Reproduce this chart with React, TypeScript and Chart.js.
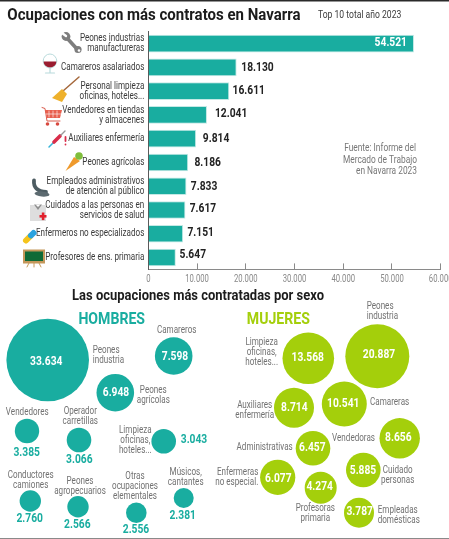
import React, { useEffect, useRef } from "react";
import { Chart, registerables } from "chart.js";

Chart.register(...registerables);

const occupations = [
  ["Peones industrias", "manufactureras"],
  "Camareros asalariados",
  ["Personal limpieza", "oficinas, hoteles..."],
  ["Vendedores en tiendas", "y almacenes"],
  "Auxiliares enfermería",
  "Peones agrícolas",
  ["Empleados administrativos", "de atención al público"],
  ["Cuidados a las personas en", "servicios de salud"],
  "Enfermeros no especializados",
  "Profesores de ens. primaria",
];
const contracts = [54521, 18130, 16611, 12041, 9814, 8186, 7833, 7617, 7151, 5647];

const menValues = [33634, 7598, 6948, 3385, 3066, 3043, 2760, 2566, 2556, 2381];
const womenValues = [20887, 13568, 10541, 8714, 8656, 6457, 6077, 5885, 4274, 3787];

// Packed-bubble layout (no meaningful axes in the reference)
const menX = [47.7, 173.7, 115.3, 27, 79, 163.7, 30.3, 78, 136.3, 183.7];
const menY = [360, 356, 392.7, 431, 440, 441.3, 501, 506.7, 512.7, 498];
const menR = [41.3, 18.8, 18.8, 12.2, 12.3, 12.3, 10.7, 10.7, 10.3, 10];
const womenX = [377.3, 308.3, 344.3, 294, 399.7, 313, 277.7, 363.3, 320.7, 359];
const womenY = [356.3, 358.3, 404, 407.7, 438.3, 448.3, 477.3, 470, 487.7, 512.7];
const womenR = [32, 25.8, 22.5, 20, 20.2, 17.3, 17.6, 17.3, 16, 15];

const TEAL = "#19ada0";
const GREEN = "#a4cf0b";
const FONT = '"Roboto", sans-serif';
const CONDENSED = 0.77;

const fmt = (v: number) => (v === 0 ? "0" : Math.floor(v / 1000) + "." + String(v % 1000).padStart(3, "0"));

// The reference uses a condensed typeface: every text of a chart is drawn narrowed.
const condensedText = {
  id: "condensedText",
  beforeInit(chart: any) {
    const ctx = chart.ctx;
    const fill = ctx.fillText.bind(ctx);
    ctx.fillText = (s: string, x: number, y: number) => {
      ctx.save();
      ctx.translate(x, y);
      ctx.scale(ctx.__sx || CONDENSED, 1);
      fill(s, 0, 0);
      ctx.restore();
    };
  },
};

function text(ctx: any, s: string, x: number, y: number, font: string, color: string, align = "left", sx = CONDENSED) {
  ctx.font = font;
  ctx.fillStyle = color;
  ctx.textAlign = align;
  ctx.textBaseline = "middle";
  ctx.__sx = sx;
  ctx.fillText(s, x, y);
  ctx.__sx = 0;
}

// Nudges of the value labels next to each bar [dx from bar end, dy from bar centre]
const valueGap = [0, 4.7, 3.3, 8, 6.7, 6.3, 4.3, 4.3, 4.3, 3.7];
const valueDy = [-1, 0.5, 0, -1.3, 0.5, 0.5, 1, -1.3, -1.3, -2.7];

const barLabels = {
  id: "barLabels",
  afterDatasetsDraw(chart: any) {
    const { ctx } = chart;
    const meta = chart.getDatasetMeta(0);
    ctx.save();
    contracts.forEach((v, i) => {
      const el = meta.data[i];
      if (i === 0) {
        text(ctx, fmt(v), el.x - 7, el.y + valueDy[i], `bold 12.5px ${FONT}`, "#ffffff", "right", 0.82);
      } else {
        text(ctx, fmt(v), el.x + valueGap[i], el.y + valueDy[i], `bold 12.5px ${FONT}`, "#222222", "left", 0.82);
      }
    });
    ctx.restore();
  },
};

function drawIcons(ctx: any) {
  ctx.save();
  ctx.lineCap = "round";
  ctx.lineJoin = "round";
  const line = (pts: number[][], color: string, w: number) => {
    ctx.strokeStyle = color;
    ctx.lineWidth = w;
    ctx.beginPath();
    pts.forEach((p, i) => (i ? ctx.lineTo(p[0], p[1]) : ctx.moveTo(p[0], p[1])));
    ctx.stroke();
  };
  const poly = (pts: number[][], color: string) => {
    ctx.fillStyle = color;
    ctx.beginPath();
    pts.forEach((p, i) => (i ? ctx.lineTo(p[0], p[1]) : ctx.moveTo(p[0], p[1])));
    ctx.closePath();
    ctx.fill();
  };
  const circle = (x: number, y: number, r: number, color: string) => {
    ctx.fillStyle = color;
    ctx.beginPath();
    ctx.arc(x, y, r, 0, Math.PI * 2);
    ctx.fill();
  };
  // wrench
  line([[66, 37], [77, 49]], "#7d7d7d", 3.6);
  circle(66, 36.5, 4.4, "#7d7d7d");
  circle(78, 49.5, 3.6, "#7d7d7d");
  line([[62, 33], [66, 36]], "#ffffff", 2.4);
  circle(79, 50.5, 1.3, "#ffffff");
  // wine glass
  ctx.strokeStyle = "#b8dadb";
  ctx.lineWidth = 1;
  ctx.beginPath();
  ctx.ellipse(50, 61, 6.8, 7, 0, 0, Math.PI * 2);
  ctx.stroke();
  ctx.fillStyle = "#9a1d30";
  ctx.beginPath();
  ctx.ellipse(50, 61.5, 6.4, 6, 0, 0, Math.PI);
  ctx.closePath();
  ctx.fill();
  line([[50, 68], [50, 72.5]], "#b8dadb", 1.2);
  line([[45.5, 73], [54.5, 73]], "#b8dadb", 1.2);
  // broom
  line([[79, 77], [63, 91]], "#a5683c", 1.5);
  poly([[62, 89], [67, 94], [62, 102], [52, 98]], "#eeb12c");
  // cart
  line([[42, 107.5], [45, 108.5], [47, 121], [60, 121]], "#d95a4c", 1);
  poly([[45, 110], [62, 110], [60, 118], [47, 118]], "#e8604f");
  [49, 53, 57].forEach((x) => line([[x, 111], [x, 117]], "#ffffff", 0.6));
  line([[46, 114], [61, 114]], "#ffffff", 0.6);
  circle(47.5, 124, 1.8, "#d8493f");
  circle(57.5, 124, 1.8, "#d8493f");
  // syringe
  line([[49, 147], [54, 142]], "#35b4d8", 1.5);
  line([[54, 142], [60, 136]], "#d92d4a", 3.6);
  line([[61, 135], [65, 131]], "#9a9a9a", 1.4);
  line([[65.5, 137], [65.5, 141]], "#d92d4a", 1.8);
  circle(65.5, 144.5, 0.9, "#d92d4a");
  // carrot
  poly([[65.5, 171], [74, 157], [80, 161]], "#ef9a2c");
  circle(79, 156, 3.8, "#7fbe3c");
  // phone
  ctx.strokeStyle = "#4d5c62";
  ctx.lineWidth = 3.8;
  ctx.beginPath();
  ctx.moveTo(34, 180.5);
  ctx.quadraticCurveTo(33, 191, 46, 192);
  ctx.stroke();
  ctx.fillStyle = "#5c6a70";
  ctx.beginPath();
  ctx.ellipse(42, 194, 7.5, 2.6, 0.1, 0, Math.PI * 2);
  ctx.fill();
  // nurse uniform
  ctx.fillStyle = "#dedede";
  ctx.fillRect(30, 205, 16, 16);
  poly([[34, 204.5], [42, 204.5], [38, 210]], "#8f8f8f");
  poly([[35.5, 204.5], [40.5, 204.5], [38, 207]], "#ffffff");
  ctx.fillStyle = "#e1202c";
  ctx.fillRect(39.5, 215, 7, 2.6);
  ctx.fillRect(41.8, 212.5, 2.6, 7.6);
  // pill
  line([[26, 240.5], [30, 236.5]], "#f5c41b", 6);
  line([[31, 235.5], [33.5, 233]], "#2ba3df", 6);
  // blackboard
  line([[29, 263], [27, 267]], "#c69a5c", 1);
  line([[34, 263], [34, 267]], "#c69a5c", 1);
  line([[39, 263], [41, 267]], "#c69a5c", 1);
  ctx.fillStyle = "#c4975a";
  ctx.fillRect(23, 249.5, 22, 14);
  ctx.fillStyle = "#0f6a36";
  ctx.fillRect(25, 251.5, 18, 9.5);
  ctx.restore();
}

const barDecor = {
  id: "barDecor",
  afterDraw(chart: any) {
    const { ctx } = chart;
    ctx.save();
    ctx.fillStyle = "#2a2a2a";
    ctx.fillRect(0, 0, 449, 1.5);
    text(ctx, "Ocupaciones con más contratos en Navarra", 7.3, 15.5, `bold 16.5px ${FONT}`, "#1c1c1c", "left", 0.91);
    text(ctx, "Top 10 total año 2023", 318, 15, `11px ${FONT}`, "#3c3c3c", "left", 0.78);
    text(ctx, "Fuente: Informe del", 416, 148, `11px ${FONT}`, "#777777", "right", 0.76);
    text(ctx, "Mercado de Trabajo", 417, 160, `11px ${FONT}`, "#777777", "right", 0.76);
    text(ctx, "en Navarra 2023", 417, 171.7, `11px ${FONT}`, "#777777", "right", 0.76);
    drawIcons(ctx);
    ctx.restore();
  },
};

type Note = { t: string[]; x: number; y: number; a: string };
const notes: Note[] = [
  { t: ["Peones", "industria"], x: 92.7, y: 350.7, a: "left" },
  { t: ["Camareros"], x: 176.7, y: 330.7, a: "center" },
  { t: ["Peones", "agrícolas"], x: 153.3, y: 390, a: "center" },
  { t: ["Vendedores"], x: 27.3, y: 412.7, a: "center" },
  { t: ["Operador", "carretillas"], x: 80.3, y: 411.7, a: "center" },
  { t: ["Limpieza", "oficinas,", "hoteles..."], x: 135.3, y: 430.3, a: "center" },
  { t: ["Conductores", "camiones"], x: 30.7, y: 475, a: "center" },
  { t: ["Peones", "agropecuarios"], x: 80, y: 481.7, a: "center" },
  { t: ["Otras", "ocupaciones", "elementales"], x: 135, y: 476.7, a: "center" },
  { t: ["Músicos,", "cantantes"], x: 185.7, y: 472, a: "center" },
  { t: ["Peones", "industria"], x: 366.7, y: 306.7, a: "left" },
  { t: ["Limpieza", "oficinas,", "hoteles..."], x: 261.7, y: 342.7, a: "center" },
  { t: ["Auxiliares", "enfermería"], x: 254.7, y: 405, a: "center" },
  { t: ["Camareras"], x: 370, y: 402.7, a: "left" },
  { t: ["Vendedoras"], x: 375, y: 438.3, a: "right" },
  { t: ["Administrativas"], x: 292.7, y: 447, a: "right" },
  { t: ["Enfermeras", "no especial."], x: 258.3, y: 472.7, a: "right" },
  { t: ["Cuidado", "personas"], x: 397.7, y: 470, a: "center" },
  { t: ["Profesoras", "primaria"], x: 315.3, y: 508.7, a: "center" },
  { t: ["Empleadas", "domésticas"], x: 377.7, y: 510, a: "left" },
];
// Value-label positions
const menLabelX = [46.3, 175, 116, 26.7, 79.3, 194, 29.7, 77.3, 136, 182.7];
const menLabelY = [362, 357, 392.7, 453, 460, 440.3, 519, 525, 530.3, 515.7];
const womenLabelX = [379, 307.7, 343.3, 294.3, 398.3, 312.3, 278.3, 363, 319.7, 359.7];
const womenLabelY = [355, 358.3, 403.7, 408, 437.7, 448, 479.3, 471.3, 487.3, 512.3];

const bubbleLabels = {
  id: "bubbleLabels",
  afterDraw(chart: any) {
    const { ctx, scales } = chart;
    const px = (v: number) => scales.x.getPixelForValue(v);
    const py = (v: number) => scales.y.getPixelForValue(v);
    ctx.save();
    text(ctx, "Las ocupaciones más contratadas por sexo", 198, py(296.7), `bold 14.5px ${FONT}`, "#1c1c1c", "center", 0.895);
    text(ctx, "HOMBRES", 111.7, py(320.3), `bold 16px ${FONT}`, TEAL, "center", 0.88);
    text(ctx, "MUJERES", 278.3, py(320.3), `bold 16px ${FONT}`, GREEN, "center", 0.88);
    notes.forEach((n) => {
      n.t.forEach((l, i) => {
        text(ctx, l, px(n.x), py(n.y + i * 9.9), `10.5px ${FONT}`, "#727272", n.a);
      });
    });
    menValues.forEach((v, i) => {
      text(ctx, fmt(v), px(menLabelX[i]), py(menLabelY[i]), `bold 12.5px ${FONT}`, i < 3 ? "#ffffff" : TEAL, "center", 0.82);
    });
    womenValues.forEach((v, i) => {
      text(ctx, fmt(v), px(womenLabelX[i]), py(womenLabelY[i]), `bold 12.5px ${FONT}`, "#ffffff", "center", 0.82);
    });
    ctx.fillStyle = "#8a8a8a";
    ctx.fillRect(0, py(538), 449, 1);
    ctx.restore();
  },
};

export default function App() {
  const barRef = useRef<HTMLCanvasElement>(null);
  const bubbleRef = useRef<HTMLCanvasElement>(null);

  useEffect(() => {
    const bar = new Chart(barRef.current as any, {
      type: "bar",
      data: {
        labels: occupations,
        datasets: [
          {
            data: contracts,
            backgroundColor: TEAL,
            borderColor: "#c4e9e5",
            borderWidth: 1,
            barPercentage: 0.74,
            categoryPercentage: 1,
          },
        ],
      },
      options: {
        indexAxis: "y",
        responsive: false,
        animation: false,
        layout: { autoPadding: false, padding: { top: 31.7, right: 8.3, left: 0, bottom: 0 } },
        plugins: { legend: { display: false }, tooltip: { enabled: false } },
        scales: {
          x: {
            min: 0,
            max: 60000,
            afterFit(s: any) {
              s.height = 15.6;
              s.paddingLeft = 0;
              s.paddingRight = 0;
            },
            border: { color: "#8a8a8a" },
            grid: { drawOnChartArea: false, tickLength: -6, color: "#8a8a8a" },
            ticks: {
              stepSize: 10000,
              maxRotation: 0,
              color: "#8a8a8a",
              padding: 10,
              font: { family: FONT, size: 10 },
              callback: (v: any) => fmt(Number(v)),
            },
          },
          y: {
            afterFit(s: any) {
              s.width = 148.3;
            },
            border: { color: "#5a5a5a" },
            grid: { display: true, drawOnChartArea: false, drawTicks: false },
            ticks: {
              color: "#3a3a3a",
              padding: 4,
              autoSkip: false,
              font: { family: FONT, size: 10.5, lineHeight: 0.95 },
            },
          },
        },
      },
      plugins: [condensedText, barLabels, barDecor],
    } as any);

    const bubble = new Chart(bubbleRef.current as any, {
      type: "bubble",
      data: {
        datasets: [
          {
            label: "Hombres",
            data: menValues.map((v, i) => ({ x: menX[i], y: menY[i], r: menR[i], v })),
            backgroundColor: TEAL,
            borderWidth: 0,
          },
          {
            label: "Mujeres",
            data: womenValues.map((v, i) => ({ x: womenX[i], y: womenY[i], r: womenR[i], v })),
            backgroundColor: GREEN,
            borderWidth: 0,
          },
        ],
      },
      options: {
        responsive: false,
        animation: false,
        layout: { autoPadding: false, padding: 0 },
        plugins: { legend: { display: false }, tooltip: { enabled: false } },
        scales: {
          x: { display: false, min: 0, max: 449 },
          y: { display: false, min: 285, max: 539, reverse: true },
        },
      },
      plugins: [condensedText, bubbleLabels],
    } as any);

    return () => {
      bar.destroy();
      bubble.destroy();
    };
  }, []);

  return (
    <div style={{ position: "absolute", left: 0, top: 0, width: 449, height: 539, background: "#fff", overflow: "hidden" }}>
      <canvas ref={barRef} width={449} height={285} style={{ position: "absolute", left: 0, top: 0 }} />
      <canvas ref={bubbleRef} width={449} height={254} style={{ position: "absolute", left: 0, top: 285 }} />
    </div>
  );
}
